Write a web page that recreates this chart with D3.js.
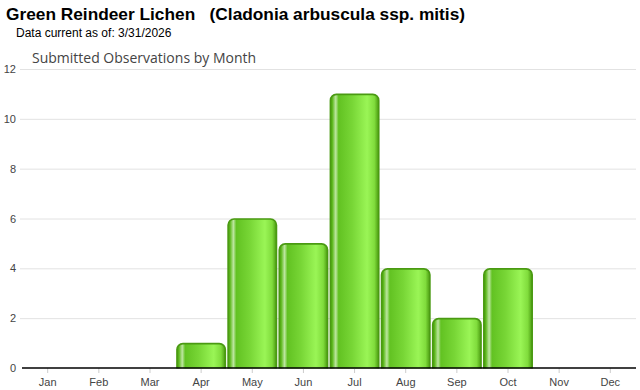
<!DOCTYPE html>
<html>
<head>
<meta charset="utf-8">
<script src="https://cdn.jsdelivr.net/npm/d3@7"></script>
<style>
  body { margin: 0; background: #fff; }
  text { font-family: "Liberation Sans", Arial, sans-serif; }
</style>
</head>
<body>
<div id="chart"></div>
<script>
// データ
var months = ["Jan","Feb","Mar","Apr","May","Jun","Jul","Aug","Sep","Oct","Nov","Dec"];
var counts = [0, 0, 0, 1, 6, 5, 11, 4, 2, 4, 0, 0];
var yTicks = [0, 2, 4, 6, 8, 10, 12];

var W = 640, H = 390;
var margin = {top: 69, right: 4, bottom: 22, left: 22};
var width = W - margin.left - margin.right,
    height = H - margin.top - margin.bottom;

var svg = d3.select("#chart").append("svg")
  .attr("width", W).attr("height", H);

// グラデーション
var defs = svg.append("defs");
var grad = defs.append("linearGradient").attr("id", "barGrad")
  .attr("x1", "0%").attr("x2", "100%").attr("y1", "0%").attr("y2", "0%");
[["0%", "#4a9a10"], ["4%", "#5cb81c"], ["11%", "#bde6a0"], ["17%", "#62c222"],
 ["45%", "#78d636"], ["76%", "#9af556"], ["91%", "#80dc3c"], ["100%", "#4a9a10"]]
  .forEach(function(s){ grad.append("stop").attr("offset", s[0]).attr("stop-color", s[1]); });

// タイトル
svg.append("text").attr("x", 6).attr("y", 20)
  .style("font-size", "17.3px").style("font-weight", "bold").style("white-space", "pre")
  .attr("fill", "#000")
  .text("Green Reindeer Lichen   (Cladonia arbuscula ssp. mitis)");
svg.append("text").attr("x", 16).attr("y", 37)
  .style("font-size", "12px").attr("fill", "#000")
  .text("Data current as of: 3/31/2026");
svg.append("text").attr("x", 32).attr("y", 63)
  .style("font-size", "14px").style("font-family", "'Open Sans', sans-serif")
  .attr("fill", "#444")
  .text("Submitted Observations by Month");

var g = svg.append("g").attr("transform", "translate(" + margin.left + "," + margin.top + ")");

var x = d3.scaleBand().domain(months).range([0, width]).paddingInner(0.035).paddingOuter(0.02);
var y = d3.scaleLinear().domain([0, 12]).range([height, 0]);

// グリッド線
g.append("g").selectAll("line").data(yTicks.filter(function(d){ return d > 0; })).enter()
  .append("line")
  .attr("x1", -2).attr("x2", width)
  .attr("y1", function(d){ return y(d) + 0.5; }).attr("y2", function(d){ return y(d) + 0.5; })
  .attr("stroke", "#e2e2e2");

// 棒
g.append("g").selectAll("rect").data(counts.map(function(c, i){ return {m: months[i], v: c}; })
    .filter(function(d){ return d.v > 0; })).enter()
  .append("rect")
  .attr("x", function(d){ return x(d.m) + 0.5; })
  .attr("y", function(d){ return y(d.v) + 0.5; })
  .attr("width", x.bandwidth() - 1)
  .attr("height", function(d){ return y(0) - y(d.v) + 6; })
  .attr("rx", 6).attr("ry", 6)
  .attr("fill", "url(#barGrad)")
  .attr("stroke", "#4a9a12").attr("stroke-width", 1.6);

// 棒の下端を隠すための白い帯
g.append("rect").attr("x", -22).attr("y", height + 0.5).attr("width", W).attr("height", 30).attr("fill", "#fff");

// Y軸ラベル
g.append("g").selectAll("text").data(yTicks).enter()
  .append("text")
  .attr("x", -6).attr("y", function(d){ return y(d) + 4; })
  .attr("text-anchor", "end").style("font-size", "11px").attr("fill", "#444")
  .text(function(d){ return d; });

// X軸
var xAxis = d3.axisBottom(x).tickSize(5).tickPadding(5);
var xg = g.append("g").attr("transform", "translate(0," + height + ")").call(xAxis);
xg.select(".domain").remove();
xg.selectAll(".tick line").attr("stroke", "#ccc");
xg.selectAll(".tick text").style("font-size", "11px").attr("fill", "#444")
  .style("font-family", "'Liberation Sans', Arial, sans-serif");
g.append("line").attr("x1", 0).attr("x2", width).attr("y1", height).attr("y2", height)
  .attr("stroke", "#000").attr("stroke-width", 1.5);
</script>
</body>
</html>
